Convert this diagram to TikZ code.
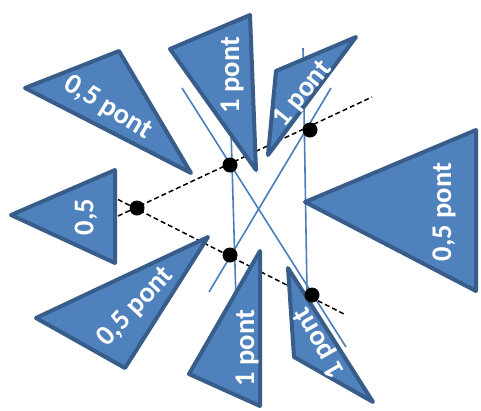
\documentclass[tikz,border=0pt]{standalone}
\usepackage{fontspec}
\setmainfont{Carlito}
\definecolor{fuellung}{HTML}{4F81BD}
\definecolor{rand}{HTML}{385D8A}
\definecolor{linie}{HTML}{4A7EBB}
\tikzstyle{dreieck}=[draw=rand,fill=fuellung,line width=4pt,line join=round]
\tikzstyle{beschriftung}=[text=white,font=\bfseries\fontsize{28.5}{31}\selectfont,inner sep=0pt]
\tikzstyle{hilfslinie}=[draw=linie,line width=1.6pt]
\tikzstyle{strichlinie}=[draw=black,line width=1.5pt,dash pattern=on 5pt off 3pt]
\tikzstyle{punkt}=[circle,fill=black,minimum size=15pt,inner sep=0pt]

\begin{document}
\begin{tikzpicture}[x=1pt,y=-1pt]
			\useasboundingbox (0,0) rectangle (481,410);
			% Gestrichelte Linien zeichnen
			\coordinate (o1) at (118,216);
			\coordinate (o2) at (372,97);
			\coordinate (u1) at (118,199.5);
			\coordinate (u2) at (346,315);
			\draw[strichlinie] (o1) -- (o2);
			\draw[strichlinie] (u1) -- (u2);
			% Hilfslinien zeichnen
			\coordinate (a1) at (182,88);
			\coordinate (a2) at (346,347);
			\coordinate (b1) at (209,292);
			\coordinate (b2) at (331,88);
			\coordinate (c1) at (231,130);
			\coordinate (c2) at (236,300);
			\coordinate (d1) at (303,48);
			\coordinate (d2) at (307,292);
			\draw[hilfslinie] (a1) -- (a2);
			\draw[hilfslinie] (b1) -- (b2);
			\draw[hilfslinie] (c1) -- (c2);
			\draw[hilfslinie] (d1) -- (d2);
			% Dreiecke zeichnen
			\draw[dreieck] (25,88) -- (119,51) -- (191,173) -- cycle;
			\draw[dreieck] (170,49) -- (250,15) -- (256,170) -- cycle;
			\draw[dreieck] (276,71) -- (356,37) -- (268,155) -- cycle;
			\draw[dreieck] (305,202) -- (476,130) -- (476,291) -- cycle;
			\draw[dreieck] (11,215) -- (115,170) -- (115,263) -- cycle;
			\draw[dreieck] (36,318) -- (208,237) -- (125,368) -- cycle;
			\draw[dreieck] (260,251) -- (189,374) -- (260,406) -- cycle;
			\draw[dreieck] (288,268) -- (294,357) -- (373,402) -- cycle;
			% Dreiecke beschriften
			\node[beschriftung,rotate=-31.5] (t1) at (108,108) {0,5 pont};
			\node[beschriftung,rotate=90] (t2) at (232,75) {1 pont};
			\node[beschriftung,rotate=51] (t3) at (303,94) {1 pont};
			\node[beschriftung,rotate=90] (t4) at (444,212) {0,5 pont};
			\node[beschriftung,rotate=90] (t5) at (86,217) {0,5};
			\node[beschriftung,rotate=47] (t6) at (136,307) {0,5 pont};
			\node[beschriftung,rotate=90] (t7) at (247,348) {1 pont};
			\node[beschriftung,rotate=120] (t8) at (320,343) {1 pont};
			% Punkte zeichnen
			\node[punkt] (p1) at (137,208) {};
			\node[punkt] (p2) at (230,165) {};
			\node[punkt] (p3) at (310,130) {};
			\node[punkt] (p4) at (230,255) {};
			\node[punkt] (p5) at (312,295) {};
		\end{tikzpicture}
\end{document}
